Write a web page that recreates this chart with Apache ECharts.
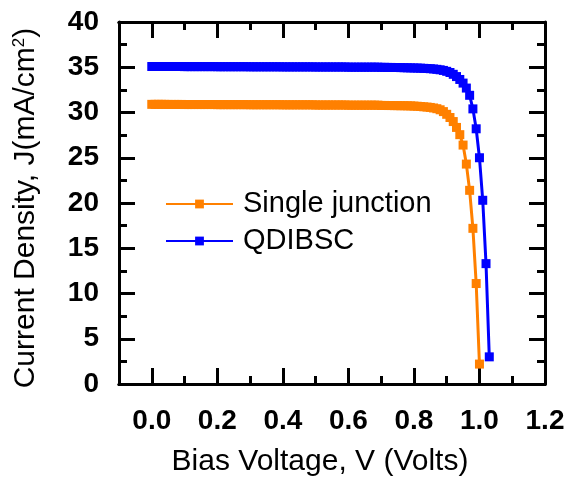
<!DOCTYPE html>
<html>
<head>
<meta charset="utf-8">
<script src="https://cdn.jsdelivr.net/npm/echarts@6/dist/echarts.min.js"></script>
<style>html,body{margin:0;padding:0;background:#fff}#c{width:576px;height:482px}</style>
</head>
<body>
<div id="c"></div>
<script>
// Single junction: voltage (V) and current density J (mA/cm2)
const vSingle = [
0.00,0.01,0.02,0.03,0.04,0.05,0.06,0.07,0.08,0.09,
0.10,0.11,0.12,0.13,0.14,0.15,0.16,0.17,0.18,0.19,
0.20,0.21,0.22,0.23,0.24,0.25,0.26,0.27,0.28,0.29,
0.30,0.31,0.32,0.33,0.34,0.35,0.36,0.37,0.38,0.39,
0.40,0.41,0.42,0.43,0.44,0.45,0.46,0.47,0.48,0.49,
0.50,0.51,0.52,0.53,0.54,0.55,0.56,0.57,0.58,0.59,
0.60,0.61,0.62,0.63,0.64,0.65,0.66,0.67,0.68,0.69,
0.70,0.71,0.72,0.73,0.74,0.75,0.76,0.77,0.78,0.79,
0.80,0.81,0.82,0.83,0.84,0.85,0.86,0.87,0.88,0.89,
0.90,0.91,0.92,0.93,0.94,0.95,0.96,0.97,0.98,0.99,
1.00];
const jSingle = [
30.90,30.90,30.90,30.90,30.90,30.89,30.89,30.89,30.89,30.89,
30.88,30.88,30.88,30.88,30.88,30.88,30.88,30.88,30.88,30.88,
30.87,30.87,30.87,30.87,30.87,30.87,30.87,30.87,30.87,30.87,
30.86,30.86,30.86,30.86,30.86,30.86,30.86,30.86,30.86,30.86,
30.85,30.85,30.85,30.85,30.85,30.85,30.85,30.85,30.85,30.85,
30.83,30.83,30.83,30.83,30.83,30.83,30.83,30.83,30.83,30.83,
30.81,30.81,30.81,30.81,30.81,30.81,30.81,30.81,30.81,30.81,
30.78,30.78,30.77,30.77,30.76,30.76,30.75,30.75,30.74,30.73,
30.71,30.69,30.66,30.63,30.60,30.56,30.50,30.42,30.30,30.10,
29.80,29.45,29.00,28.35,27.55,26.40,24.30,21.40,17.20,11.10,
2.20];
// QDIBSC
const vQD = [
0.00,0.01,0.02,0.03,0.04,0.05,0.06,0.07,0.08,0.09,
0.10,0.11,0.12,0.13,0.14,0.15,0.16,0.17,0.18,0.19,
0.20,0.21,0.22,0.23,0.24,0.25,0.26,0.27,0.28,0.29,
0.30,0.31,0.32,0.33,0.34,0.35,0.36,0.37,0.38,0.39,
0.40,0.41,0.42,0.43,0.44,0.45,0.46,0.47,0.48,0.49,
0.50,0.51,0.52,0.53,0.54,0.55,0.56,0.57,0.58,0.59,
0.60,0.61,0.62,0.63,0.64,0.65,0.66,0.67,0.68,0.69,
0.70,0.71,0.72,0.73,0.74,0.75,0.76,0.77,0.78,0.79,
0.80,0.81,0.82,0.83,0.84,0.85,0.86,0.87,0.88,0.89,
0.90,0.91,0.92,0.93,0.94,0.95,0.96,0.97,0.98,0.99,
1.00,1.01,1.02,1.03];
const jQD = [
35.08,35.08,35.08,35.08,35.08,35.08,35.08,35.08,35.08,35.08,
35.07,35.07,35.07,35.07,35.07,35.07,35.07,35.07,35.07,35.07,
35.06,35.06,35.06,35.06,35.06,35.06,35.06,35.06,35.06,35.06,
35.05,35.05,35.05,35.05,35.05,35.05,35.05,35.05,35.05,35.05,
35.04,35.04,35.04,35.04,35.04,35.04,35.04,35.04,35.04,35.04,
35.03,35.03,35.03,35.03,35.03,35.03,35.03,35.03,35.03,35.03,
35.01,35.01,35.01,35.01,35.01,35.01,35.01,35.01,35.01,35.01,
34.99,34.99,34.98,34.98,34.97,34.97,34.96,34.95,34.94,34.93,
34.92,34.91,34.90,34.88,34.86,34.84,34.81,34.77,34.72,34.65,
34.55,34.42,34.22,33.97,33.65,33.25,32.70,31.90,30.40,28.20,
25.00,20.30,13.30,3.00];

const xMajorTicks = [0.0,0.2,0.4,0.6,0.8,1.0,1.2];
const xMinorTicks = [0.1,0.3,0.5,0.7,0.9,1.1];
const seriesNames = ['Single junction','QDIBSC'];

const FONT = '"Liberation Sans", Arial, Helvetica, sans-serif';
const pair = (xs, ys) => xs.map((x, i) => [x, ys[i]]);

const baseX = (pos, ticks, len, showLabel) => ({
  type: 'value', position: pos, min: -0.1, max: 1.2,
  axisLine: {show: true, onZero: false, lineStyle: {color: '#000', width: 3}},
  axisTick: {show: true, inside: true, length: len, customValues: ticks, lineStyle: {color: '#000', width: 3}},
  axisLabel: showLabel ? {show: true, customValues: xMajorTicks, margin: 23, color: '#000', fontFamily: FONT, fontSize: 28, fontWeight: 'bold', formatter: v => v.toFixed(1)} : {show: false},
  splitLine: {show: false}
});

const xAxes = [
  Object.assign(baseX('bottom', xMajorTicks, 16, true), {
    name: 'Bias Voltage, V (Volts)', nameLocation: 'middle', nameGap: 63,
    nameTextStyle: {color: '#000', fontFamily: FONT, fontSize: 30, padding: [0, 24, 0, 0]}
  }),
  baseX('bottom', xMinorTicks, 8, false),
  baseX('top', xMajorTicks, 16, false),
  baseX('top', xMinorTicks, 8, false)
];

const baseY = (pos, showLabel) => ({
  type: 'value', position: pos, min: 0, max: 40, interval: 5,
  axisLine: {show: true, onZero: false, lineStyle: {color: '#000', width: 3}},
  axisTick: {show: true, inside: true, length: 16, lineStyle: {color: '#000', width: 3}},
  minorTick: {show: true, splitNumber: 2, length: 8, lineStyle: {color: '#000', width: 3}},
  axisLabel: showLabel ? {show: true, margin: 20, color: '#000', fontFamily: FONT, fontSize: 28, fontWeight: 'bold'} : {show: false},
  splitLine: {show: false}, minorSplitLine: {show: false}
});

const yAxes = [
  Object.assign(baseY('left', true), {
    name: 'Current Density, J(mA/cm{sup|2})', nameLocation: 'middle', nameGap: 78,
    nameTextStyle: {color: '#000', fontFamily: FONT, fontSize: 30, lineHeight: 30, padding: [0, 10, 0, 0],
      rich: {sup: {fontSize: 17, fontFamily: FONT, color: '#000', verticalAlign: 'top', lineHeight: 30}}}
  }),
  baseY('right', false)
];

const chart = echarts.init(document.getElementById('c'), null, {renderer: 'canvas'});
chart.setOption({
  animation: false,
  backgroundColor: '#fff',
  grid: {left: 119, right: 31, top: 22, bottom: 96, containLabel: false},
  xAxis: xAxes,
  yAxis: yAxes,
  legend: {
    left: 160, top: 183, orient: 'vertical', itemWidth: 67, itemHeight: 11, itemGap: 5,
    data: seriesNames,
    textStyle: {color: '#000', fontFamily: FONT, fontSize: 29, lineHeight: 32, padding: [0, 0, 0, 5]}
  },
  series: [
    {name: seriesNames[0], type: 'line', data: pair(vSingle, jSingle), symbol: 'rect', symbolSize: 9, showAllSymbol: true,
     color: '#FF8000', lineStyle: {width: 3, color: '#FF8000'}, itemStyle: {color: '#FF8000'}, xAxisIndex: 0, yAxisIndex: 0},
    {name: seriesNames[1], type: 'line', data: pair(vQD, jQD), symbol: 'rect', symbolSize: 9, showAllSymbol: true,
     color: '#0000FF', lineStyle: {width: 3, color: '#0000FF'}, itemStyle: {color: '#0000FF'}, xAxisIndex: 0, yAxisIndex: 0}
  ]
});
</script>
</body>
</html>
